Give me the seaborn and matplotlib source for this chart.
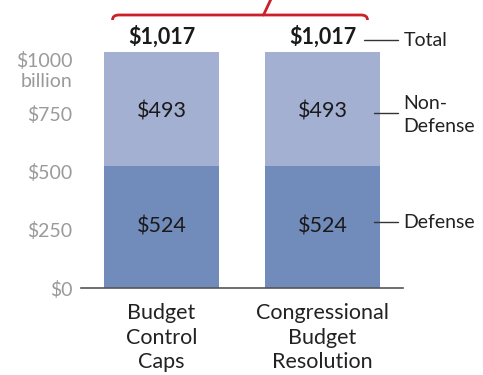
import matplotlib
matplotlib.use("Agg")
import matplotlib.pyplot as plt
import matplotlib.transforms as mtransforms
import seaborn as sns
import pandas as pd
from matplotlib.path import Path
from matplotlib.patches import PathPatch

categories = ["Budget\nControl\nCaps", "Congressional\nBudget\nResolution"]
defense = [524, 524]
non_defense = [493, 493]
totals = [d + n for d, n in zip(defense, non_defense)]
ytick_vals = [0, 250, 500, 750, 1000]
ytick_labels = ["$0", "$250", "$500", "$750", "$1000\nbillion"]

sns.set_theme(style="white")
plt.rcParams['font.family'] = ['Lato', 'DejaVu Sans']

df = pd.DataFrame({"cat": categories, "defense": defense,
                   "non_defense": non_defense, "total": totals})

fig = plt.figure(figsize=(4.83, 3.75), dpi=100)
ax = fig.add_axes([81 / 483, 87 / 375, (403 - 81) / 483, 288 / 375])

light = "#a3b0d1"
dark = "#718bbb"
sns.barplot(data=df, x="cat", y="total", color=light, width=0.72,
            saturation=1, linewidth=0, edgecolor="none", ax=ax)
sns.barplot(data=df, x="cat", y="defense", color=dark, width=0.72,
            saturation=1, linewidth=0, edgecolor="none", ax=ax)

ax.set_xlim(-0.5, 1.5)
ax.set_ylim(0, 1241)
for s in ["top", "right", "left"]:
    ax.spines[s].set_visible(False)
ax.spines["bottom"].set_color("#555555")
ax.spines["bottom"].set_linewidth(1.2)
ax.set_xlabel("")
ax.set_ylabel("")
ax.set_yticks(ytick_vals)
ax.set_yticklabels(ytick_labels, color="#9a9a9a", fontsize=14,
                   linespacing=1.2)
ax.tick_params(axis="y", length=0, pad=6)
ax.tick_params(axis="x", length=0, pad=11)
ax.set_xticks(range(len(categories)))
ax.set_xticklabels(categories, fontsize=15.5, color="#222222",
                   linespacing=1.27)
for lbl in ax.get_yticklabels():
    if "billion" in lbl.get_text():
        lbl.set_verticalalignment("top")
        lbl.set_transform(lbl.get_transform() +
                          mtransforms.ScaledTranslation(0, 4 / 100, fig.dpi_scale_trans))

for i in range(len(categories)):
    ax.text(i, defense[i] / 2 + 2, f"${defense[i]}", ha="center", va="center",
            fontsize=15.5, color="#1a1a1a")
    ax.text(i, defense[i] + non_defense[i] / 2 - 12, f"${non_defense[i]}",
            ha="center", va="center", fontsize=15.5, color="#1a1a1a")
    ax.text(i, 1082, f"${totals[i]:,}", ha="center", va="center",
            fontsize=15.5, fontweight="bold", color="#1a1a1a")

def px2y(py):
    return (288 - py) / 288 * 1241

def px2x(px):
    return (px - 161) / 161

line_kw = dict(color="#333333", lw=1, clip_on=False)
ax.plot([px2x(363), px2x(397)], [px2y(40), px2y(40)], **line_kw)
ax.plot([px2x(373), px2x(397)], [px2y(113), px2y(113)], **line_kw)
ax.plot([px2x(373), px2x(397)], [px2y(222), px2y(222)], **line_kw)
ax.text(px2x(403), px2y(41), "Total", ha="left", va="center", fontsize=14,
        color="#222222", clip_on=False)
ax.text(px2x(403), px2y(115), "Non-\nDefense", ha="left", va="center",
        fontsize=14, color="#222222", linespacing=1.42, clip_on=False)
ax.text(px2x(403), px2y(222), "Defense", ha="left", va="center", fontsize=14,
        color="#222222", clip_on=False)

# red bracket
red = "#cc1f2a"
x0, x1 = px2x(112), px2x(367)
yb, yh = px2y(20), px2y(15)
r = 0.02
verts = [(x0, yb), (x0, yh), (x0 + r * 2, yh), (x1 - r * 2, yh), (x1, yh), (x1, yb)]
codes = [Path.MOVETO, Path.CURVE3, Path.CURVE3, Path.LINETO, Path.CURVE3, Path.CURVE3]
ax.add_patch(PathPatch(Path(verts, codes), fill=False, edgecolor=red, lw=2,
                       clip_on=False))
ax.plot([px2x(263), px2x(271)], [yh, px2y(-2)], color=red, lw=2, clip_on=False)

fig.savefig("out.png", dpi=100)
